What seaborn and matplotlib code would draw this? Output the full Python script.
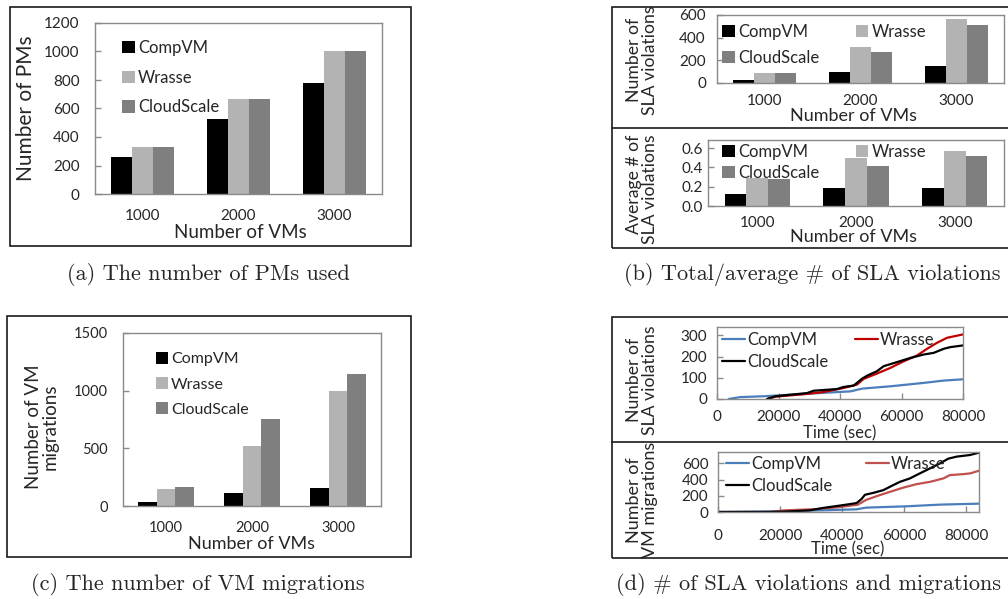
import numpy as np
import pandas as pd
import matplotlib
matplotlib.use("Agg")
import matplotlib.pyplot as plt
from matplotlib.patches import Rectangle, Patch
from matplotlib.lines import Line2D
from matplotlib.ticker import FormatStrFormatter
import seaborn as sns

# ---------------- data ----------------
vm_counts = ["1000", "2000", "3000"]
schemes = ["CompVM", "Wrasse", "CloudScale"]

pms_compvm = [262, 524, 781]
pms_wrasse = [333, 667, 1000]
pms_cloudscale = [333, 667, 1000]

sla_total_compvm = [24, 95, 148]
sla_total_wrasse = [89, 320, 565]
sla_total_cloudscale = [89, 272, 512]

sla_avg_compvm = [0.12, 0.19, 0.19]
sla_avg_wrasse = [0.29, 0.495, 0.575]
sla_avg_cloudscale = [0.285, 0.42, 0.52]

mig_compvm = [35, 110, 160]
mig_wrasse = [145, 521, 997]
mig_cloudscale = [165, 756, 1142]

# cumulative SLA violations over time (sec)
sla_t_compvm = [3800, 7600, 15200, 28200, 43400, 47200, 56400, 67200, 73700, 80000]
sla_v_compvm = [0, 9, 13, 24, 36, 49, 60, 76, 87, 93]
sla_t_wrasse = [16300, 19000, 29300, 34700, 41200, 45500, 47700, 52000, 56400,
                60700, 65000, 68300, 71500, 74800, 80000]
sla_v_wrasse = [0, 11, 24, 33, 52, 68, 95, 120, 147, 178, 205, 237, 265, 289, 305]
sla_t_cloudscale = [16300, 19000, 29300, 31400, 39000, 41200, 44400, 45500, 47200,
                    48800, 52000, 54200, 58500, 62900, 67200, 70500, 73700, 75900, 80000]
sla_v_cloudscale = [0, 13, 28, 39, 47, 57, 63, 76, 96, 110, 131, 155, 174, 194,
                    210, 218, 237, 245, 253]

# cumulative VM migrations over time (sec)
mig_t_compvm = [0, 16600, 33900, 44700, 47800, 60700, 71600, 84200]
mig_v_compvm = [0, 8, 21, 33, 54, 70, 91, 103]
mig_t_wrasse = [0, 16600, 21500, 31100, 38600, 45100, 47800, 52100, 56500, 59700,
                64000, 68400, 72700, 74800, 79100, 81300, 84200]
mig_v_wrasse = [0, 0, 20, 35, 58, 90, 150, 207, 261, 300, 343, 372, 414, 455, 467, 476, 509]
mig_t_cloudscale = [0, 16600, 23100, 29600, 33900, 40400, 44700, 46300, 47400, 50100,
                    53300, 56500, 58700, 61900, 65100, 68400, 71600, 74300, 77000, 81300, 84200]
mig_v_cloudscale = [0, 0, 8, 20, 50, 85, 110, 160, 212, 236, 269, 331, 372, 414, 476,
                    538, 600, 658, 683, 703, 732]

# ---------------- style ----------------
sns.set_style("white")
plt.rcParams["font.family"] = ["Lato", "DejaVu Sans"]
FRAME = "#8a8a8a"
bar_colors = {"CompVM": "#000000", "Wrasse": "#b3b3b3", "CloudScale": "#7f7f7f"}
line_colors_top = {"CompVM": "#4a7ebb", "Wrasse": "#c00000", "CloudScale": "#000000"}
line_colors_bot = {"CompVM": "#4a7ebb", "Wrasse": "#c0504d", "CloudScale": "#000000"}

W, H = 1008, 599
fig = plt.figure(figsize=(W / 100, H / 100), dpi=100)


def px_axes(l, t, r, b):
    return fig.add_axes([l / W, 1 - b / H, (r - l) / W, (b - t) / H])


def fx(x):
    return x / W


def fy(y):
    return 1 - y / H


def frame(ax):
    for s in ax.spines.values():
        s.set_visible(True)
        s.set_color(FRAME)
        s.set_linewidth(1.0)


def to_axes(ax, px, py):
    l, b, w, h = ax.get_position().bounds
    return ((px / W) - l) / w, ((1 - py / H) - b) / h


def bar_panel(ax, series, ylim, yticks, tick_fs, ypad, xpad, fmt=None):
    df = pd.DataFrame({
        "vms": vm_counts * 3,
        "scheme": np.repeat(schemes, len(vm_counts)),
        "value": np.concatenate(series),
    })
    sns.barplot(data=df, x="vms", y="value", hue="scheme", order=vm_counts,
                hue_order=schemes, palette=bar_colors, width=0.66, saturation=1,
                errorbar=None, legend=False, linewidth=0, ax=ax)
    ax.set_ylim(*ylim)
    ax.set_yticks(yticks)
    if fmt:
        ax.yaxis.set_major_formatter(FormatStrFormatter(fmt))
    frame(ax)
    ax.tick_params(axis="y", direction="in", length=4, width=1, color=FRAME,
                   labelsize=tick_fs, pad=ypad, left=True)
    ax.tick_params(axis="x", length=0, labelsize=tick_fs, pad=xpad)


def bar_handles():
    return [Patch(facecolor=bar_colors[s], edgecolor="none", label=s) for s in schemes]


def line_panel(ax, ts, vs, colors, xlim, ylim, yticks, tick_fs, ypad, xpad):
    df = pd.concat([
        pd.DataFrame({"t": t, "v": v, "scheme": s}) for t, v, s in zip(ts, vs, schemes)
    ])
    sns.lineplot(data=df, x="t", y="v", hue="scheme", hue_order=schemes,
                 palette=colors, sort=False, estimator=None, legend=False,
                 linewidth=1.6, ax=ax)
    ax.set_xlim(*xlim)
    ax.set_ylim(*ylim)
    ax.set_xticks([0, 20000, 40000, 60000, 80000])
    ax.set_yticks(yticks)
    frame(ax)
    ax.tick_params(axis="both", direction="in", length=4, width=1, color=FRAME,
                   labelsize=tick_fs, bottom=True, left=True)
    ax.tick_params(axis="y", pad=ypad)
    ax.tick_params(axis="x", pad=xpad)


def line_handles(colors):
    # row-major order for a two-column legend
    order = ["CompVM", "CloudScale", "Wrasse"]
    return [Line2D([], [], color=colors[s], lw=1.6, label=s) for s in order]


def place_labels(ax, xl, yl):
    ax.xaxis.set_label_coords(*to_axes(ax, *xl))
    ax.yaxis.set_label_coords(*to_axes(ax, *yl))
    ax.xaxis.label.set_va("center")
    ax.yaxis.label.set_va("center")


# ---------------- (a) number of PMs ----------------
ax_a = px_axes(95, 23, 382, 194)
bar_panel(ax_a, [pms_compvm, pms_wrasse, pms_cloudscale], (0, 1200),
          range(0, 1201, 200), 11, 11, 11)
ax_a.set_xlabel("Number of VMs", fontsize=13.5, labelpad=0)
ax_a.set_ylabel("Number of PMs", fontsize=15)
place_labels(ax_a, (240, 233), (26, 108))
ax_a.legend(handles=bar_handles(), loc="upper left",
            bbox_to_anchor=to_axes(ax_a, 122, 40), borderaxespad=0, borderpad=0,
            frameon=False, fontsize=12, handlelength=0.75, handleheight=0.75,
            handletextpad=0.2, labelspacing=0.82)

# ---------------- (b) SLA violations, total and average ----------------
ax_b1 = px_axes(717, 15, 1004, 83)
bar_panel(ax_b1, [sla_total_compvm, sla_total_wrasse, sla_total_cloudscale], (0, 600),
          [0, 200, 400, 600], 11, 8, 8)
ax_b1.set_xlabel("Number of VMs", fontsize=13, labelpad=0)
ax_b1.set_ylabel("Number of\nSLA violations", fontsize=12.7, linespacing=0.95)
place_labels(ax_b1, (853, 116), (642, 60))
ax_b1.legend(handles=[bar_handles()[i] for i in (0, 2, 1)], ncol=2, loc="upper left",
             bbox_to_anchor=to_axes(ax_b1, 722, 24), borderaxespad=0, borderpad=0,
             frameon=False, fontsize=12, handlelength=0.75, handleheight=0.75,
             handletextpad=0.2, labelspacing=0.59, columnspacing=2.2)

ax_b2 = px_axes(708, 140, 1004, 206)
bar_panel(ax_b2, [sla_avg_compvm, sla_avg_wrasse, sla_avg_cloudscale], (0, 0.685),
          [0, 0.2, 0.4, 0.6], 11, 4, 7, fmt="%.1f")
ax_b2.set_xlabel("Number of VMs", fontsize=13, labelpad=0)
ax_b2.set_ylabel("Average # of\nSLA violations", fontsize=12.7, linespacing=0.95,
                 multialignment="right")
place_labels(ax_b2, (853, 237), (642, 189))
ax_b2.legend(handles=[bar_handles()[i] for i in (0, 2, 1)], ncol=2, loc="upper left",
             bbox_to_anchor=to_axes(ax_b2, 722, 144), borderaxespad=0, borderpad=0,
             frameon=False, fontsize=12, handlelength=0.75, handleheight=0.75,
             handletextpad=0.2, labelspacing=0.28, columnspacing=2.2)

# ---------------- (c) number of VM migrations ----------------
ax_c = px_axes(123, 333, 381, 506)
bar_panel(ax_c, [mig_compvm, mig_wrasse, mig_cloudscale], (0, 1500),
          [0, 500, 1000, 1500], 10.5, 11, 11)
ax_c.set_xlabel("Number of VMs", fontsize=13, labelpad=0)
ax_c.set_ylabel("Number of VM\nmigrations", fontsize=13.5, linespacing=1.0)
place_labels(ax_c, (252, 544), (42, 427))
ax_c.legend(handles=bar_handles(), loc="upper left",
            bbox_to_anchor=to_axes(ax_c, 156, 352), borderaxespad=0, borderpad=0,
            frameon=False, fontsize=11.5, handlelength=0.75, handleheight=0.75,
            handletextpad=0.2, labelspacing=0.67)

# ---------------- (d) SLA violations and migrations over time ----------------
ax_d1 = px_axes(717, 327, 963, 399)
line_panel(ax_d1, [sla_t_compvm, sla_t_wrasse, sla_t_cloudscale],
           [sla_v_compvm, sla_v_wrasse, sla_v_cloudscale], line_colors_top,
           (0, 80000), (0, 340), [0, 100, 200, 300], 11, 7, 8)
ax_d1.set_xlabel("Time (sec)", fontsize=12, labelpad=0)
ax_d1.set_ylabel("Number of\nSLA violations", fontsize=12.7, linespacing=0.95)
place_labels(ax_d1, (840, 433), (642, 380))
ax_d1.legend(handles=line_handles(line_colors_top), ncol=2, loc="upper left",
             bbox_to_anchor=to_axes(ax_d1, 722, 332), borderaxespad=0, borderpad=0,
             frameon=False, fontsize=12, handlelength=1.4, handletextpad=0.1,
             labelspacing=0.34, columnspacing=1.6)

ax_d2 = px_axes(718, 452, 979, 512)
line_panel(ax_d2, [mig_t_compvm, mig_t_wrasse, mig_t_cloudscale],
           [mig_v_compvm, mig_v_wrasse, mig_v_cloudscale], line_colors_bot,
           (0, 84200), (0, 740), [0, 200, 400, 600], 11, 7, 12)
ax_d2.set_xlabel("Time (sec)", fontsize=12, labelpad=0)
ax_d2.set_ylabel("Number of\nVM migrations", fontsize=13, linespacing=0.95)
place_labels(ax_d2, (848, 549), (642, 500))
ax_d2.legend(handles=line_handles(line_colors_bot), ncol=2, loc="upper left",
             bbox_to_anchor=to_axes(ax_d2, 726, 456), borderaxespad=0, borderpad=0,
             frameon=False, fontsize=12, handlelength=1.4, handletextpad=0.1,
             labelspacing=0.34, columnspacing=2.0)

# ---------------- panel borders ----------------
def border(l, t, r, b):
    fig.add_artist(Rectangle((fx(l), fy(b)), fx(r) - fx(l), fy(t) - fy(b),
                             transform=fig.transFigure, fill=False,
                             edgecolor="#1a1a1a", linewidth=1.2))


def hline(y, l, r):
    fig.add_artist(Line2D([fx(l), fx(r)], [fy(y), fy(y)], transform=fig.transFigure,
                          color="#1a1a1a", linewidth=1.2))


border(10, 7, 411, 246)
border(612, 7, 1020, 248)
hline(128, 612, 1020)
border(7, 316, 411, 557)
border(612, 317, 1020, 558)
hline(442, 612, 1020)

# ---------------- captions ----------------
cap_font = dict(family=["cmr10", "DejaVu Serif"], fontsize=16, ha="center", va="center")
fig.text(fx(208), fy(275), "(a) The number of PMs used", **cap_font)
fig.text(fx(812), fy(275), "(b) Total/average # of SLA violations", **cap_font)
fig.text(fx(198), fy(585), "(c) The number of VM migrations", **cap_font)
fig.text(fx(809), fy(585), "(d) # of SLA violations and migrations", **cap_font)

fig.savefig("out.png", dpi=100)
